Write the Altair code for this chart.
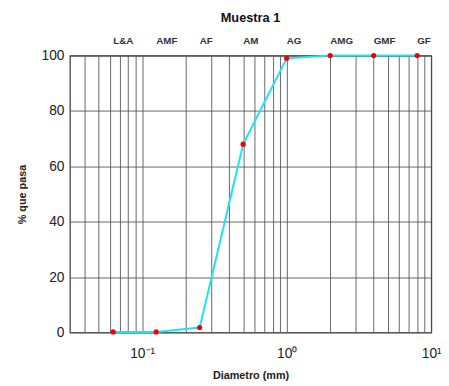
import altair as alt
import pandas as pd

sizes = [0.063, 0.125, 0.25, 0.5, 1, 2, 4, 8]
names = ["L&A", "AMF", "AF", "AM", "AG", "AMG", "GMF", "GF"]
pasa = [0.2, 0.2, 1.8, 68, 99, 100, 100, 100]

grid_vals = [0.04, 0.05, 0.06, 0.07, 0.08, 0.09,
             0.1, 0.2, 0.3, 0.4, 0.5, 0.6, 0.7, 0.8, 0.9,
             1, 2, 3, 4, 5, 6, 7, 8, 9, 10]
y_ticks = [0, 20, 40, 60, 80, 100]

df = pd.DataFrame({"d": sizes, "p": pasa, "name": names})

FONT = "Liberation Sans"

xscale = alt.Scale(type="log", domain=[0.0316, 10], nice=False)
yscale = alt.Scale(domain=[0, 100], nice=False)

label_expr = ("abs(datum.value-0.1)<1e-9 ? '10⁻¹' : "
              "abs(datum.value-1)<1e-9 ? '10⁰' : "
              "abs(datum.value-10)<1e-9 ? '10¹' : ''")

base = alt.Chart(df)

line = base.mark_line(color="#1ee4f0", strokeWidth=2).encode(
    x=alt.X("d:Q", scale=xscale,
            axis=alt.Axis(values=grid_vals, labelExpr=label_expr, title="Diametro (mm)",
                          grid=True, gridColor="#555555", gridWidth=1, gridOpacity=0.9,
                          domain=False, ticks=False, labelFlush=False,
                          labelFontSize=14, labelFont=FONT, labelColor="#222",
                          labelPadding=14, titleFont=FONT, titleFontSize=11,
                          titleFontWeight="bold", titlePadding=10, titleColor="#222")),
    y=alt.Y("p:Q", scale=yscale,
            axis=alt.Axis(values=y_ticks, title="% que pasa", grid=True,
                          gridColor="#555555", gridWidth=1, gridOpacity=0.9,
                          domain=False, ticks=False, labelFontSize=14, labelFont=FONT,
                          labelColor="#222", labelPadding=6, titleFont=FONT,
                          titleFontSize=11, titleFontWeight="bold", titlePadding=14,
                          titleColor="#222")),
)

points = base.mark_circle(color="#ee0000", size=28, opacity=1).encode(
    x=alt.X("d:Q", scale=xscale),
    y=alt.Y("p:Q", scale=yscale),
)

labels = base.mark_text(align="left", baseline="middle", font=FONT, fontSize=10,
                        fontWeight="bold", color="#333").encode(
    x=alt.X("d:Q", scale=xscale),
    y=alt.value(-15),
    text="name:N",
)

chart = alt.layer(line, points, labels).properties(
    width=368, height=282,
    title=alt.TitleParams("Muestra 1", font=FONT, fontSize=13, fontWeight="bold",
                          color="#111", offset=11),
    autosize=alt.AutoSizeParams(type="none"),
    padding={"left": 63, "top": 45, "right": 10, "bottom": 50},
).configure_view(stroke="#333333", strokeWidth=1.2)

chart.save("out.html", embed_options={"renderer": "svg", "actions": False})
